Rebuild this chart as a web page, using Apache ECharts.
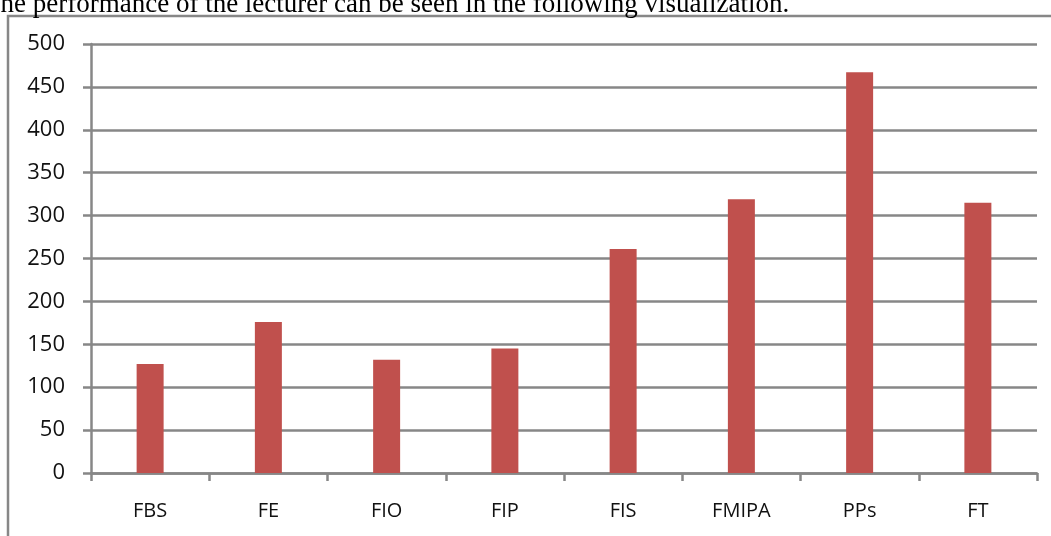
<!DOCTYPE html>
<html>
<head>
<meta charset="utf-8">
<script src="https://cdn.jsdelivr.net/npm/echarts@6/dist/echarts.min.js"></script>
<style>html,body{margin:0;padding:0;background:#fff}#c{width:1051px;height:536px}</style>
</head>
<body>
<div id="c"></div>
<script>
const categories = ['FBS', 'FE', 'FIO', 'FIP', 'FIS', 'FMIPA', 'PPs', 'FT'];
const values = [127, 176, 132, 145, 261, 319, 467, 315];
const yTicks = { min: 0, max: 500, interval: 50 };
const captionText = 'The performance of the lecturer can be seen in the following visualization.';

const chart = echarts.init(document.getElementById('c'), null, { renderer: 'canvas' });
chart.setOption({
  animation: false,
  backgroundColor: '#fff',
  grid: { left: 91, right: 14, top: 44, bottom: 63 },
  xAxis: {
    type: 'category',
    data: categories,
    axisLine: { show: true, lineStyle: { color: '#878787', width: 2.5 } },
    axisTick: { show: true, length: 8, lineStyle: { color: '#878787', width: 2.5 } },
    axisLabel: { color: '#111', fontFamily: 'Open Sans', fontSize: 20, margin: 28 },
    splitLine: { show: false }
  },
  yAxis: {
    type: 'value',
    min: yTicks.min, max: yTicks.max, interval: yTicks.interval,
    axisLine: { show: true, lineStyle: { color: '#878787', width: 2.5 } },
    axisTick: { show: true, length: 8, lineStyle: { color: '#878787', width: 2.5 } },
    axisLabel: { color: '#111', fontFamily: 'Open Sans', fontSize: 22, margin: 26 },
    splitLine: { show: true, lineStyle: { color: '#878787', width: 2.5 } }
  },
  series: [{
    type: 'bar',
    data: values,
    barWidth: 27,
    itemStyle: { color: '#C0504D' }
  }],
  graphic: [
    {
      type: 'rect',
      shape: { x: 8, y: 16, width: 1100, height: 600 },
      style: { fill: 'none', stroke: '#878787', lineWidth: 2.5 },
      silent: true
    },
    {
      type: 'text',
      left: -16,
      top: -9,
      style: { text: captionText, fontFamily: 'Liberation Serif', fontSize: 27, fill: '#000' },
      silent: true
    }
  ]
});
</script>
</body>
</html>
